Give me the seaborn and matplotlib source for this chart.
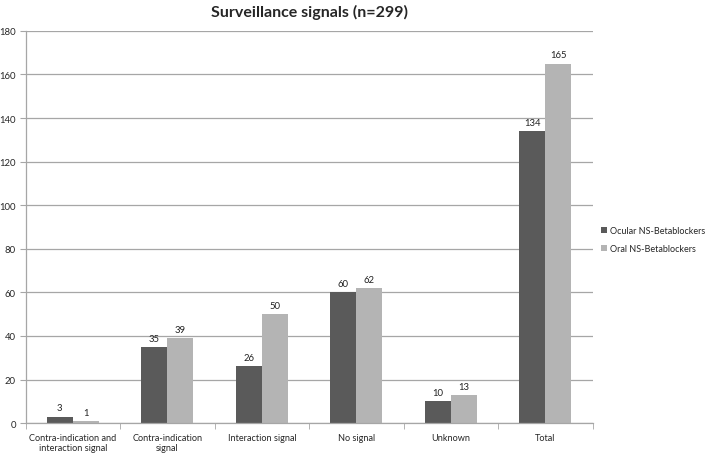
import pandas as pd
import matplotlib
matplotlib.use("Agg")
import matplotlib.pyplot as plt
import seaborn as sns
from matplotlib.ticker import FixedLocator

categories = ["Contra-indication and\ninteraction signal", "Contra-indication\nsignal",
              "Interaction signal", "No signal", "Unknown", "Total"]
ocular = [3, 35, 26, 60, 10, 134]
oral = [1, 39, 50, 62, 13, 165]
series_names = ["Ocular NS-Betablockers", "Oral NS-Betablockers"]

df = pd.DataFrame({
    "category": categories * 2,
    "count": ocular + oral,
    "series": [series_names[0]] * len(categories) + [series_names[1]] * len(categories),
})

sns.set_style("white")
plt.rcParams['font.family'] = ['Lato', 'DejaVu Sans']

fig = plt.figure(figsize=(7.09, 4.56), dpi=100)
ax = fig.add_axes([0.036, 0.070, 0.800, 0.860])

sns.barplot(data=df, x="category", y="count", hue="series", order=categories,
            hue_order=series_names, palette=["#5a5a5a", "#b4b4b4"],
            width=0.55, saturation=1, ax=ax, edgecolor="none")

for cont in ax.containers:
    ax.bar_label(cont, fontsize=6.8, padding=3, color="#222222")

ax.set_ylim(0, 180)
ax.set_yticks(range(0, 181, 20))
ax.set_xlim(-0.5, len(categories) - 0.5)
ax.yaxis.grid(True, color="#a6a6a6", linewidth=0.9)
ax.set_axisbelow(True)
ax.set_xlabel("")
ax.set_ylabel("")
ax.tick_params(axis="y", labelsize=6.8, length=4, color="#a6a6a6", direction="out", left=True, pad=3)
ax.tick_params(axis="x", labelsize=6.6, length=0, pad=7)
ax.xaxis.set_minor_locator(FixedLocator([i - 0.5 for i in range(len(categories) + 1)]))
ax.tick_params(axis="x", which="minor", length=4, color="#a6a6a6", direction="out", bottom=True)
for s in ["top", "right"]:
    ax.spines[s].set_visible(False)
for s in ["left", "bottom"]:
    ax.spines[s].set_color("#a6a6a6")
    ax.spines[s].set_linewidth(0.9)

ax.set_title("Surveillance signals (n=299)", fontsize=11.5, fontweight="bold", pad=11)

ax.legend(title=None, frameon=False, fontsize=6.5, loc="center left",
          bbox_to_anchor=(1.005, 0.467), handlelength=0.7, handleheight=0.7,
          handletextpad=0.3, labelspacing=1.0, borderaxespad=0.2)

fig.savefig("out.png", dpi=100)
